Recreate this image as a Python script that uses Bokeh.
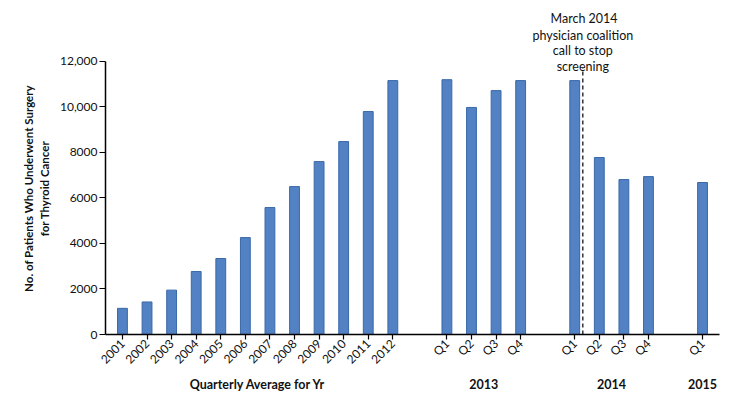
from math import pi
from bokeh.plotting import figure
from bokeh.models import FactorRange, Range1d, FixedTicker, ColumnDataSource, Title
from bokeh.core.properties import value
from bokeh.embed import file_html
from bokeh.resources import INLINE

# ---- data ----
annual_group = "Quarterly Average for Yr"
annual_years = ["2001", "2002", "2003", "2004", "2005", "2006",
                "2007", "2008", "2009", "2010", "2011", "2012"]
annual_values = [1150, 1430, 1950, 2770, 3340, 4260,
                 5580, 6500, 7600, 8480, 9800, 11160]

quarters_2013 = ["Q1", "Q2", "Q3", "Q4"]
values_2013 = [11200, 9980, 10720, 11160]
quarters_2014 = ["Q1", "Q2", "Q3", "Q4"]
values_2014 = [11160, 7780, 6810, 6940]
quarters_2015 = ["Q1"]
values_2015 = [6680]

y_ticks = [0, 2000, 4000, 6000, 8000, 10000, 12000]
y_tick_labels = ["0", "2000", "4000", "6000", "8000", "10,000", "12,000"]

event_factor = ("2014", "Q1")
event_lines = ["March 2014", "physician coalition", "call to stop", "screening"]

# ---- build ----
factors = ([(annual_group, y) for y in annual_years]
           + [("2013", q) for q in quarters_2013]
           + [("2014", q) for q in quarters_2014]
           + [("2015", q) for q in quarters_2015])
tops = annual_values + values_2013 + values_2014 + values_2015

src = ColumnDataSource(data=dict(x=factors, top=tops))

FONT = "Lato"
INK = "#111111"

x_range = FactorRange(*factors, group_padding=1.2, range_padding=0.19,
                      range_padding_units="absolute")

p = figure(width=725, height=397, x_range=x_range, y_range=Range1d(0, 12835),
           output_backend="svg", toolbar_location=None,
           min_border_left=105, min_border_right=6, min_border_top=42,
           min_border_bottom=63)
p.outline_line_color = None
p.xgrid.grid_line_color = None
p.ygrid.grid_line_color = None

p.vbar(x="x", top="top", width=0.4, source=src,
       fill_color="#5282C4", line_color="#3A68A8", line_width=1)

ev_x = event_factor + (0.33,)
p.segment(x0=[ev_x], y0=[0], x1=[ev_x], y1=[11720],
          line_color="black", line_width=1.2, line_dash="4 3")
# lower two lines of the note sit inside the plot area, one row each
note_y = [12470, 11770]
p.text(x=[ev_x, ev_x], y=note_y, text=event_lines[2:],
       text_align="center", text_baseline="middle",
       text_font=value(FONT), text_font_size="12.5px", text_color=INK)
# upper two lines sit above the plot area (nearest the frame first)
for line, off in ((event_lines[1], 427), (event_lines[0], 445)):
    p.add_layout(Title(text=line, align="left", offset=off, standoff=0,
                       text_font=FONT, text_font_size="12.5px",
                       text_font_style="normal", text_color=INK), "above")

# y axis
ya = p.yaxis[0]
ya.ticker = FixedTicker(ticks=y_ticks)
ya.major_label_overrides = {t: l for t, l in zip(y_ticks, y_tick_labels)}
ya.bounds = (0, 12000)
ya.axis_line_color = "black"
ya.axis_line_width = 1.5
ya.major_tick_line_color = "black"
ya.major_tick_line_width = 1.2
ya.major_tick_out = 6
ya.major_tick_in = 0
ya.minor_tick_line_color = None
ya.major_label_text_font = FONT
ya.major_label_text_font_size = "12px"
ya.major_label_text_color = INK
ya.major_label_standoff = 2
ya.axis_label = "No. of Patients Who Underwent Surgery\nfor Thyroid Cancer"
ya.axis_label_text_font = FONT
ya.axis_label_text_font_style = "bold"
ya.axis_label_text_font_size = "11.5px"
ya.axis_label_text_line_height = 1.25
ya.axis_label_text_color = INK
ya.axis_label_standoff = 6

# x axis
xa = p.xaxis[0]
xa.axis_line_color = "black"
xa.axis_line_width = 1.5
xa.major_tick_line_color = "black"
xa.major_tick_line_width = 1.2
xa.major_tick_out = 5
xa.major_tick_in = 0
xa.major_label_orientation = pi / 4
xa.major_label_text_font = FONT
xa.major_label_text_font_size = "12px"
xa.major_label_text_color = INK
xa.major_label_standoff = 2
xa.group_text_font = FONT
xa.group_text_font_style = "bold"
xa.group_text_font_size = "12.5px"
xa.group_text_color = INK
xa.separator_line_color = None

open("out.html", "w").write(file_html(p, INLINE))
